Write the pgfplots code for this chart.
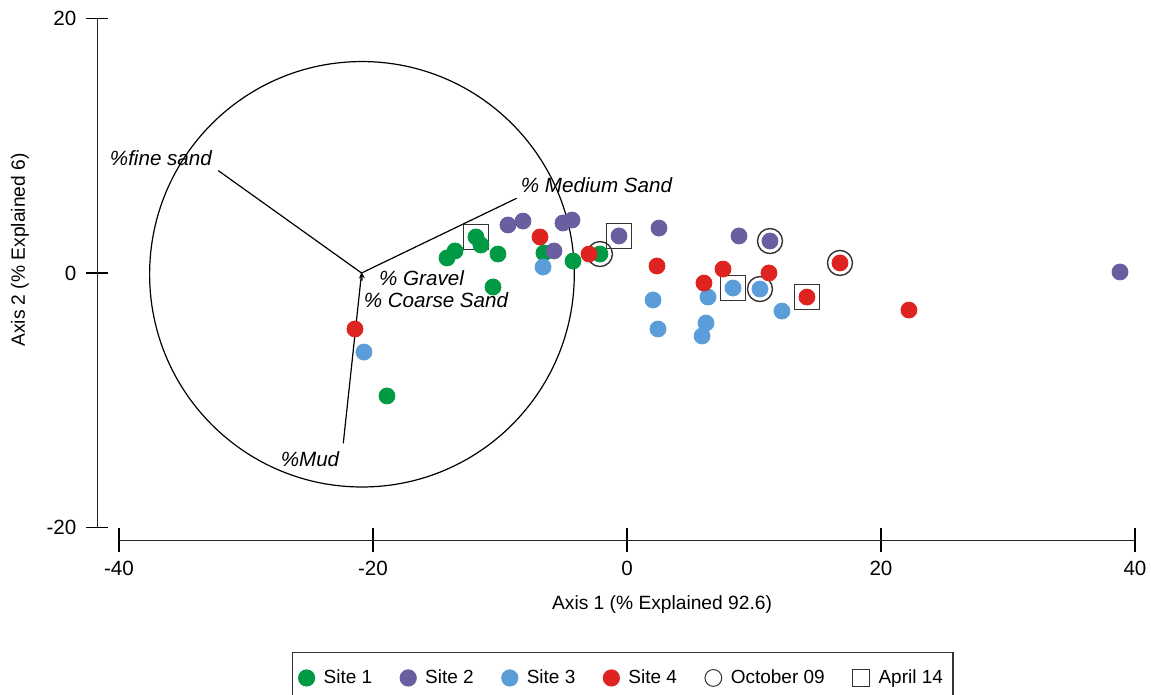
\documentclass[border=0pt]{standalone}
\usepackage{pgfplots}
\pgfplotsset{compat=1.18}
\usepackage{fontspec}
\setmainfont{Liberation Sans}
\usetikzlibrary{arrows.meta}
\definecolor{sgreen}{RGB}{0,154,68}
\definecolor{spurple}{RGB}{106,94,160}
\definecolor{sblue}{RGB}{91,157,217}
\definecolor{sred}{RGB}{221,36,33}
\begin{document}
\begin{tikzpicture}
\useasboundingbox (-313.5pt,-211pt) rectangle (262pt,136.5pt);
% ---------- y axis ----------
\begin{axis}[
  anchor=origin, at={(0pt,0pt)},
  x=6.35pt, y=6.365pt,
  xmin=-41.7, xmax=40, ymin=-20, ymax=20,
  axis y line=left, axis x line=none,
  y axis line style={-, line width=0.8pt, black!85},
  ytick={-20,0,20},
  tick align=center, major tick length=11pt,
  tick style={black, line width=0.6pt},
  yticklabel style={anchor=east, xshift=-1.5pt, font=\fontsize{10.3}{12}\selectfont},
  /pgf/number format/assume math mode=true,
  ylabel={Axis 2 (\% Explained 6)},
  ylabel style={at={(axis description cs:-0.0747,0.545)}, anchor=center, font=\fontsize{9.6}{11}\selectfont},
]
\end{axis}
% ---------- x axis + data ----------
\begin{axis}[
  anchor=origin, at={(0pt,0pt)},
  x=6.35pt, y=6.365pt,
  xmin=-40, xmax=40, ymin=-21, ymax=20,
  axis x line=bottom, axis y line=none,
  x axis line style={-, line width=0.8pt, black!85},
  xtick={-40,-20,0,20,40},
  tick align=center, major tick length=12pt,
  tick style={black, line width=0.6pt},
  xticklabel style={anchor=north, yshift=-1pt, font=\fontsize{10.3}{12}\selectfont},
  /pgf/number format/assume math mode=true,
  xlabel={Axis 1 (\% Explained 92.6)},
  xlabel style={at={(axis description cs:0.5345,-0.1239)}, anchor=center, font=\fontsize{9.6}{11}\selectfont},
  clip=false,
  legend columns=6,
  legend style={at={(axis description cs:0.1703,-0.2139)}, anchor=north west,
    draw=black!80, line width=0.6pt, font=\fontsize{9.5}{11}\selectfont,
    /tikz/every odd column/.append style={column sep=2.5pt},
    /tikz/every even column/.append style={column sep=12pt},
    inner ysep=6.5pt, inner xsep=3pt},
]
% biplot circle and vectors
\draw[black, line width=0.6pt] (axis cs:-20.87,-0.1) ellipse [x radius=16.72, y radius=16.71];
\addplot[black, line width=0.6pt, forget plot] coordinates {(-20.9,0) (-32.18,8.04)};
\addplot[black, line width=0.6pt, forget plot] coordinates {(-20.9,0) (-8.69,5.87)};
\addplot[black, line width=0.6pt, forget plot] coordinates {(-20.9,0) (-22.34,-13.38)};
\addplot[black, line width=0.6pt, -{Stealth[length=3pt,width=3pt]}, forget plot] coordinates {(-20.86,-0.6) (-20.9,0.05)};
\node[font=\fontsize{10.3}{12}\selectfont\itshape] at (axis cs:-36.7,9.03) {\%fine sand};
\node[font=\fontsize{10.3}{12}\selectfont\itshape] at (axis cs:-2.40,6.91) {\% Medium Sand};
\node[font=\fontsize{10.3}{12}\selectfont\itshape] at (axis cs:-16.18,-0.39) {\% Gravel};
\node[font=\fontsize{10.3}{12}\selectfont\itshape] at (axis cs:-15.04,-2.12) {\% Coarse Sand};
\node[font=\fontsize{10.3}{12}\selectfont\itshape] at (axis cs:-24.96,-14.6) {\%Mud};
% October 09 rings
\addplot[only marks, mark=o, mark size=6.25pt, mark options={draw=black!80, line width=0.7pt}, forget plot]
  coordinates {(-2.13,1.49) (11.26,2.51) (10.47,-1.26) (16.77,0.79)};
% April 14 boxes
\addplot[only marks, mark=square, mark size=6.25pt, mark options={draw=black!80, line width=0.7pt}, forget plot]
  coordinates {(-11.89,2.83) (-0.63,2.91) (8.35,-1.18) (14.17,-1.89)};
% Site 1
\addplot[only marks, mark=*, mark size=4pt, mark options={draw=sgreen, fill=sgreen}, forget plot] coordinates {
  (-11.89,2.83) (-11.50,2.20) (-13.54,1.73) (-14.17,1.18) (-10.16,1.49)
  (-10.55,-1.10) (-6.54,1.57) (-4.25,0.94) (-2.13,1.49) (-18.90,-9.66)};
% Site 2
\addplot[only marks, mark=*, mark size=4pt, mark options={draw=spurple, fill=spurple}, forget plot] coordinates {
  (-9.37,3.77) (-8.19,4.08) (-5.04,3.93) (-4.33,4.16) (-5.75,1.73)
  (-0.63,2.91) (2.52,3.53) (8.82,2.91) (11.26,2.51) (38.82,0.08)};
% Site 3
\addplot[only marks, mark=*, mark size=4pt, mark options={draw=sblue, fill=sblue}, forget plot] coordinates {
  (-6.61,0.47) (-20.71,-6.21) (2.05,-2.12) (2.44,-4.40) (6.38,-1.89)
  (6.22,-3.93) (5.91,-4.95) (8.35,-1.18) (10.47,-1.26) (12.20,-2.99)};
% Site 4
\addplot[only marks, mark=*, mark size=4pt, mark options={draw=sred, fill=sred}, forget plot] coordinates {
  (-21.42,-4.40) (-6.85,2.83) (-2.99,1.49) (2.36,0.55) (6.06,-0.79)
  (7.56,0.31) (11.18,0.0) (16.77,0.79) (14.17,-1.89) (22.20,-2.91)};
% legend
\addlegendimage{only marks, mark=*, mark size=4pt, mark options={draw=sgreen, fill=sgreen}}
\addlegendentry{Site 1}
\addlegendimage{only marks, mark=*, mark size=4pt, mark options={draw=spurple, fill=spurple}}
\addlegendentry{Site 2}
\addlegendimage{only marks, mark=*, mark size=4pt, mark options={draw=sblue, fill=sblue}}
\addlegendentry{Site 3}
\addlegendimage{only marks, mark=*, mark size=4pt, mark options={draw=sred, fill=sred}}
\addlegendentry{Site 4}
\addlegendimage{only marks, mark=o, mark size=4.2pt, mark options={draw=black!80, line width=0.5pt}}
\addlegendentry{October 09}
\addlegendimage{only marks, mark=square, mark size=4.2pt, mark options={draw=black!80, line width=0.5pt}}
\addlegendentry{April 14}
\end{axis}
\end{tikzpicture}
\end{document}
